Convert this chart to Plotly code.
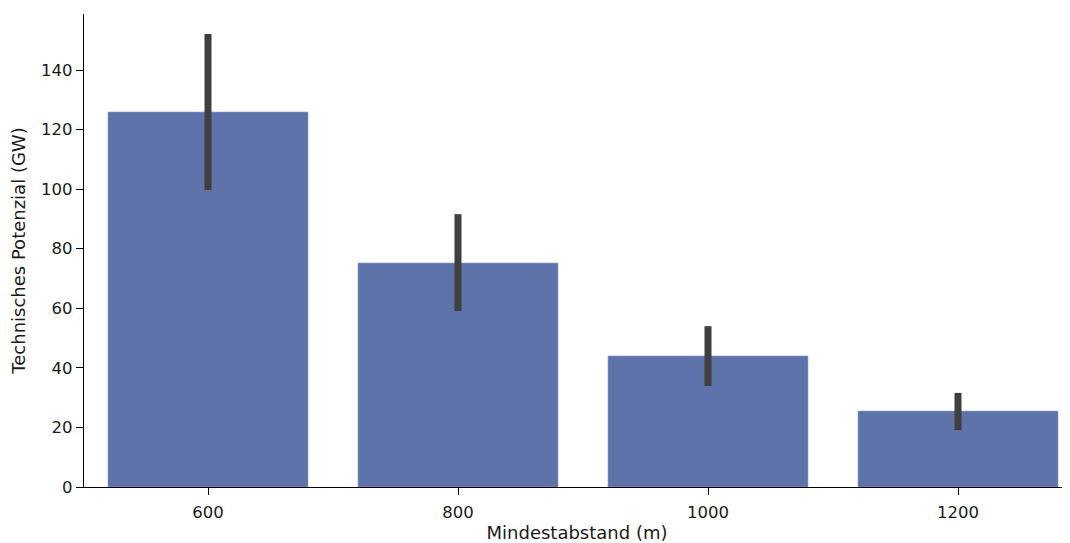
import plotly.graph_objects as go

categories = ["600", "800", "1000", "1200"]
mean_gw = [125.9, 75.2, 44.0, 25.5]
ci_upper = [152.1, 91.6, 54.0, 31.6]
ci_lower = [99.7, 59.1, 33.9, 19.1]

err_plus = [u - m for u, m in zip(ci_upper, mean_gw)]
err_minus = [m - l for m, l in zip(mean_gw, ci_lower)]

fig = go.Figure(
    go.Bar(
        x=categories,
        y=mean_gw,
        width=0.8,
        marker=dict(color="#5d73aa", line=dict(width=0.6, color="#8ea0cc")),
        error_y=dict(
            type="data",
            symmetric=False,
            array=err_plus,
            arrayminus=err_minus,
            color="#3f3f3f",
            thickness=7,
            width=0,
        ),
    )
)

tick_font = dict(family="DejaVu Sans", size=16.5, color="#1a1a1a")
title_font = dict(family="DejaVu Sans", size=18, color="#1a1a1a")
fig.update_layout(
    width=1062,
    height=535,
    margin=dict(l=76, r=0, t=6, b=56),
    paper_bgcolor="white",
    plot_bgcolor="white",
    font=tick_font,
    showlegend=False,
    xaxis=dict(
        type="category",
        range=[-0.496, 3.448],
        automargin=False,
        showline=True,
        linecolor="black",
        linewidth=1.3,
        ticks="outside",
        ticklen=7,
        tickwidth=1.3,
        tickcolor="black",
        ticklabelstandoff=3,
        showgrid=False,
        zeroline=False,
        title=dict(text="Mindestabstand (m)", standoff=10, font=title_font),
        tickfont=tick_font,
    ),
    yaxis=dict(
        range=[0, 158.8],
        automargin=False,
        tickvals=[0, 20, 40, 60, 80, 100, 120, 140],
        showline=True,
        linecolor="black",
        linewidth=1.3,
        ticks="outside",
        ticklen=7,
        tickwidth=1.3,
        tickcolor="black",
        showgrid=False,
        zeroline=False,
        title=dict(text="Technisches Potenzial (GW)", standoff=10, font=title_font),
        tickfont=tick_font,
    ),
)

fig.write_html("out.html")
